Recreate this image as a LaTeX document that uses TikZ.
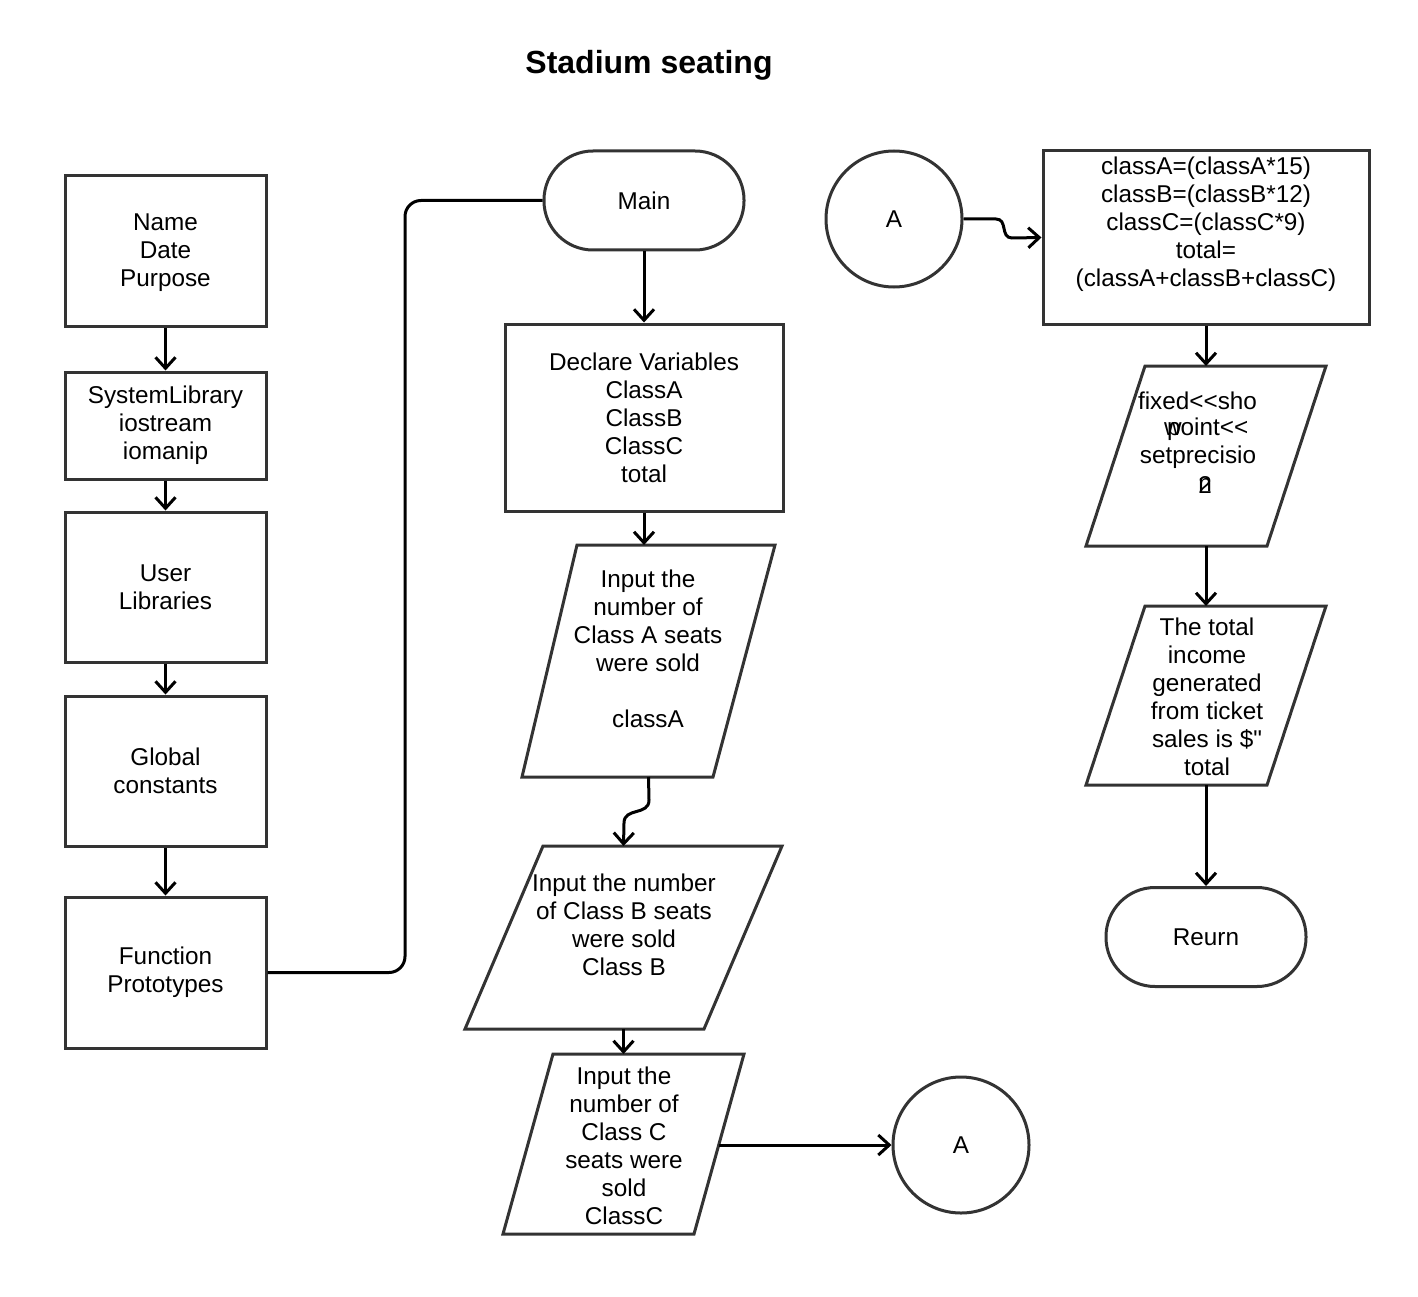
\documentclass[tikz,border=0pt]{standalone}
\usepackage{fontspec}
\setmainfont{Liberation Sans}
\usetikzlibrary{arrows.meta,calc}
\definecolor{bord}{RGB}{51,51,51}
\tikzset{
  box/.style={draw=bord, line width=3pt, fill=white, minimum width=201pt, inner sep=0pt, align=center, font=\fontsize{24.3}{28}\selectfont},
  term/.style={box, rounded corners=49pt, minimum width=200pt, minimum height=99pt},
  circ/.style={draw=bord, line width=3pt, circle, minimum size=136pt, inner sep=0pt, font=\fontsize{24.3}{28}\selectfont},
  pshape/.style={draw=bord, line width=3pt, line join=miter},
  ghost/.style={inner sep=0pt, outer sep=0pt, draw=none},
  txt/.style={inner sep=0pt, align=center, font=\fontsize{24.3}{28}\selectfont},
  conn/.style={line width=3pt, black, -{Straight Barb[length=11pt,width=20pt,line width=3pt]}},
  plain/.style={line width=3pt, black},
}
\begin{document}
\begin{tikzpicture}[x=1pt,y=-1pt]
\useasboundingbox (0,0) rectangle (1418,1297);
\fill[white] (0,0) rectangle (1418,1297);

\node[txt, font=\fontsize{32}{38}\selectfont\bfseries] (title) at (649,65) {Stadium seating};

% left column
\node[box, minimum height=150pt] (n1) at (165.5,251) {};
\node[txt] (t1) at (165.5,253) {Name\\Date\\Purpose};
\node[box, minimum height=107pt] (n2) at (165.5,425.5) {SystemLibrary\\iostream\\iomanip};
\node[box, minimum height=150pt] (n3) at (165.5,587) {User\\Libraries};
\node[box, minimum height=150pt] (n4) at (165.5,771) {Global\\constants};
\node[box, minimum height=151pt] (n5) at (165.5,972.5) {Function\\Prototypes};

% middle column
\node[term] (main) at (644,200.5) {Main};
\node[box, minimum width=278pt, minimum height=187pt] (decl) at (644,417.5) {Declare Variables\\ClassA\\ClassB\\ClassC\\total};

\node[ghost, minimum width=253pt, minimum height=232pt] (pA) at (648.5,661) {};
\draw[pshape] ([xshift=55pt]pA.north west) -- (pA.north east) -- ([xshift=-62pt]pA.south east) -- (pA.south west) -- cycle;
\node[txt] (tA) at (648,649) {Input the\\number of\\Class A seats\\were sold\\\strut\\classA};

\node[ghost, minimum width=317pt, minimum height=183pt] (pB) at (623.5,937.5) {};
\draw[pshape] ([xshift=78pt]pB.north west) -- (pB.north east) -- ([xshift=-78pt]pB.south east) -- (pB.south west) -- cycle;
\node[txt] (tB) at (624,925) {Input the number\\of Class B seats\\were sold\\Class B};

\node[ghost, minimum width=241pt, minimum height=180pt] (pC) at (623.5,1144) {};
\draw[pshape] ([xshift=50pt]pC.north west) -- (pC.north east) -- ([xshift=-50pt]pC.south east) -- (pC.south west) -- cycle;
\node[txt] (tC) at (624,1146) {Input the\\number of\\Class C\\seats were\\sold\\ClassC};
\coordinate (pCe) at (718.7,1145);

\node[circ] (ca2) at (961,1145) {A};

% right column
\node[circ] (ca1) at (894,219) {A};
\node[box, minimum width=326pt, minimum height=173pt] (calc) at (1206,237.5) {};
\node[txt] (tcalc) at (1206,224) {classA=(classA*15)\\classB=(classB*12)\\classC=(classC*9)\\total=\\(classA+classB+classC)};

\node[ghost, minimum width=240pt, minimum height=180pt] (pF) at (1206,456) {};
\draw[pshape] ([xshift=59pt]pF.north west) -- (pF.north east) -- ([xshift=-59pt]pF.south east) -- (pF.south west) -- cycle;
\node[txt] (f1) at (1197.5,401) {fixed<{}<sho};
\node[txt, anchor=west] (f2) at (1167,429) {point<{}<};
\node[txt] (f2w) at (1173,429) {w};
\node[txt] (f3) at (1198,457) {setprecisio};
\node[txt] (f4a) at (1205,485) {n};
\node[txt] (f4b) at (1205,485) {2};

\node[ghost, minimum width=240pt, minimum height=179pt] (pT) at (1206,695.5) {};
\draw[pshape] ([xshift=59pt]pT.north west) -- (pT.north east) -- ([xshift=-59pt]pT.south east) -- (pT.south west) -- cycle;
\node[txt] (tT) at (1207,697) {The total\\income\\generated\\from ticket\\sales is \$\textquotedbl\\total};

\node[term] (ret) at (1206,937) {Reurn};

% connectors
\draw[conn] (n1.south) -- (n2.north);
\draw[conn] (n2.south) -- (n3.north);
\draw[conn] (n3.south) -- (n4.north);
\draw[conn] (n4.south) -- (n5.north);
\coordinate (bend) at (405,600);
\draw[plain, rounded corners=16pt] (n5.east) -- (n5.east -| bend) -- (bend |- main.west) -- (main.west);

\draw[conn] (main.south) -- (decl.north);
\draw[conn] (decl.south) -- (decl.south |- pA.north);
\coordinate (k1) at (649,800);
\coordinate (k2) at (624,823);
\draw[conn] (pA.south) -- (k1) .. controls (649,816) and (624,807) .. (k2) -- (pB.north);
\draw[conn] (pB.south) -- (pC.north);
\draw[conn] (pCe) -- (ca2.west);

\coordinate (m1) at (996,219);
\coordinate (m2) at (1012,238);
\draw[conn] (ca1.east) -- (m1) .. controls (1008,219) and (1000,238) .. (m2) -- (calc.west);
\draw[conn] (calc.south) -- (pF.north);
\draw[conn] (pF.south) -- (pT.north);
\draw[conn] (pT.south) -- (ret.north);
\end{tikzpicture}
\end{document}
